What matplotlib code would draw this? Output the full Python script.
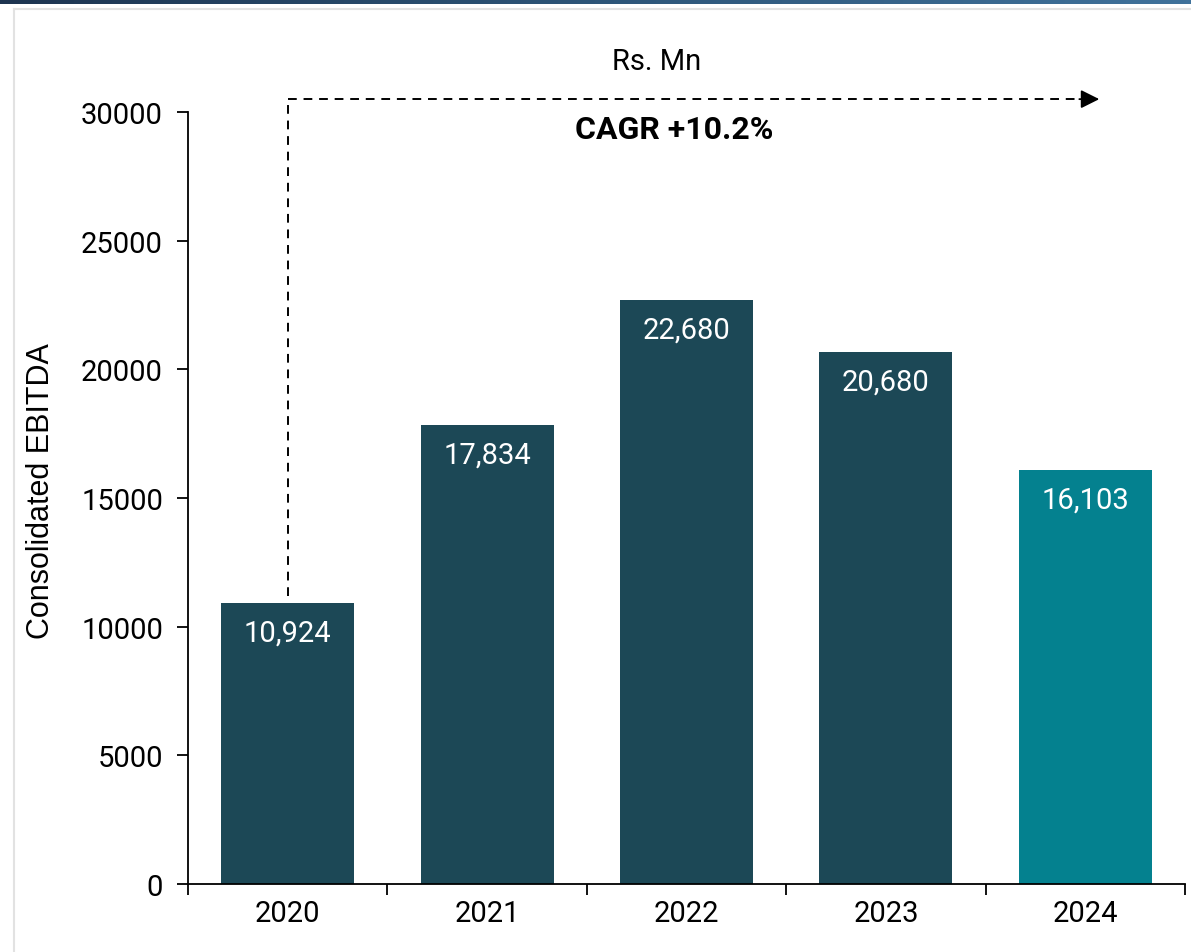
import numpy as np
import matplotlib.pyplot as plt
from matplotlib.lines import Line2D
from matplotlib.colors import LinearSegmentedColormap

years = ["2020", "2021", "2022", "2023", "2024"]
ebitda = [10924, 17834, 22680, 20680, 16103]
bar_colors = ["#1c4856", "#1c4856", "#1c4856", "#1c4856", "#04818f"]
y_ticks = [0, 5000, 10000, 15000, 20000, 25000, 30000]
cagr_label = "CAGR +10.2%"
unit_label = "Rs. Mn"

plt.rcParams["font.family"] = ["Roboto", "DejaVu Sans"]

fig = plt.figure(figsize=(11.91, 9.53), dpi=100)

# header band across the top with a horizontal gradient
band = fig.add_axes([0, 1 - 5 / 953, 1, 5 / 953])
grad = np.linspace(0, 1, 256).reshape(1, -1)
cmap = LinearSegmentedColormap.from_list("hdr", ["#1d3450", "#2d5578", "#40729b"])
band.imshow(grad, aspect="auto", cmap=cmap)
band.axis("off")

# thin card border
fig.add_artist(Line2D([14 / 1191, 1], [1 - 10 / 953, 1 - 10 / 953],
                      transform=fig.transFigure, color="#e2e2e2", lw=1.5))
fig.add_artist(Line2D([14 / 1191, 14 / 1191], [0, 1 - 10 / 953],
                      transform=fig.transFigure, color="#e2e2e2", lw=1.5))

ax = fig.add_axes([188 / 1191, 1 - 885 / 953, 997 / 1191, 772 / 953])

x = np.arange(len(years))
ax.bar(x, ebitda, width=0.667, color=bar_colors)

for xi, v in zip(x, ebitda):
    ax.text(xi, v - 1150, f"{v:,}", ha="center", va="center",
            color="white", fontsize=21)

ax.set_xlim(-0.5, len(years) - 0.5)
ax.set_ylim(0, 30000)
ax.set_yticks(y_ticks)
ax.set_yticklabels([str(t) for t in y_ticks])

# ticks between categories, labels centred on bars
ax.set_xticks(np.arange(-0.5, len(years)))
ax.set_xticklabels([])
ax.set_xticks(x, minor=True)
ax.set_xticklabels(years, minor=True)
ax.tick_params(axis="x", which="major", length=8, width=1.3, direction="out")
ax.tick_params(axis="x", which="minor", length=0, pad=11, labelsize=21)
ax.tick_params(axis="y", length=8, width=1.3, labelsize=21, pad=10)

for s in ["top", "right"]:
    ax.spines[s].set_visible(False)
for s in ["left", "bottom"]:
    ax.spines[s].set_linewidth(1.3)

ax.set_ylabel("Consolidated EBITDA", fontsize=22, labelpad=18,
              family=["Liberation Sans", "DejaVu Sans"])
ax.yaxis.label.set_y(0.51)

# dashed growth arrow from the first bar across the top
y_top = 30500
x_end = 4.07
ax.plot([0, 0], [ebitda[0] + 250, y_top], ls=(0, (4.5, 3.5)), color="black",
        lw=1.4, clip_on=False)
ax.plot([0, x_end - 0.05], [y_top, y_top], ls=(0, (4.5, 3.5)), color="black",
        lw=1.4, clip_on=False)
ax.annotate("", xy=(x_end, y_top), xytext=(x_end - 0.1, y_top),
            arrowprops=dict(arrowstyle="-|>", color="black", lw=1.3,
                            mutation_scale=28, shrinkA=0, shrinkB=0),
            annotation_clip=False)

ax.text(1.94, 29340, cagr_label, ha="center", va="center",
        fontsize=23, fontweight="bold")
fig.text(657 / 1191, 1 - 62 / 953, unit_label, ha="center", va="center",
         fontsize=21)

fig.savefig("out.png", dpi=100)
